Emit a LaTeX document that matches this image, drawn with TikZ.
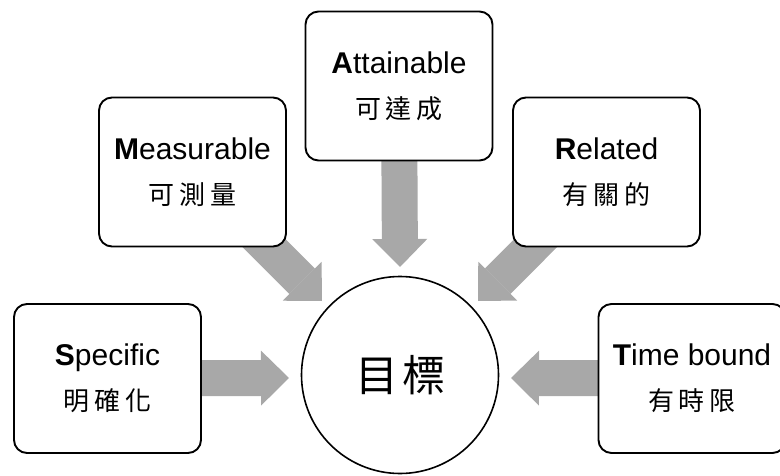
\documentclass[tikz,border=0pt]{standalone}
\usepackage{fontspec}
\setmainfont{Liberation Sans}
\newfontfamily\cjk{Noto Sans CJK TC}
\usetikzlibrary{arrows.meta,backgrounds}
\definecolor{arrowgray}{RGB}{168,168,168}
\newcommand{\zhthree}[3]{{\cjk\fontsize{26}{26}\selectfont #1\hspace{5pt}#2\hspace{5pt}#3}}
\begin{document}
\begin{tikzpicture}[x=1pt,y=-1pt,
  smartbox/.style={draw=black, line width=1.9pt, fill=white, rounded corners=13pt,
    minimum width=187pt, minimum height=149pt, inner sep=0pt, align=center,
    font=\fontsize{30}{45}\selectfont},
  goal/.style={circle, draw=black, line width=1.6pt, fill=white, minimum size=197pt, inner sep=0pt},
  bigarrow/.style={draw=arrowgray, line width=36pt,
    -{Triangle[length=28pt, width=55pt, line width=0pt]}}]
\useasboundingbox (0,0) rectangle (780,476);
\node[goal] (G) at (400,375) {{\cjk\fontsize{43}{43}\selectfont 目\hspace{4pt}標}};
\node[smartbox] (S) at (107.5,378.5) {\textbf{S}pecific\\\zhthree{明}{確}{化}};
\node[smartbox] (M) at (192.5,172) {\textbf{M}easurable\\\zhthree{可}{測}{量}};
\node[smartbox] (A) at (399,86) {\textbf{A}ttainable\\\zhthree{可}{達}{成}};
\node[smartbox] (R) at (606.5,172) {\textbf{R}elated\\\zhthree{有}{關}{的}};
\node[smartbox] (T) at (692,378.5) {\textbf{T}ime bound\\\zhthree{有}{時}{限}};
\coordinate (tS) at (289,378);
\coordinate (tM) at (322,301);
\coordinate (tA) at (400,267);
\coordinate (tR) at (478,301);
\coordinate (tT) at (511,378);
\begin{pgfonlayer}{background}
\draw[bigarrow] (S.center) -- (tS);
\draw[bigarrow] (M.center) -- (tM);
\draw[bigarrow] (A.center) -- (tA);
\draw[bigarrow] (R.center) -- (tR);
\draw[bigarrow] (T.center) -- (tT);
\end{pgfonlayer}
\end{tikzpicture}
\end{document}
